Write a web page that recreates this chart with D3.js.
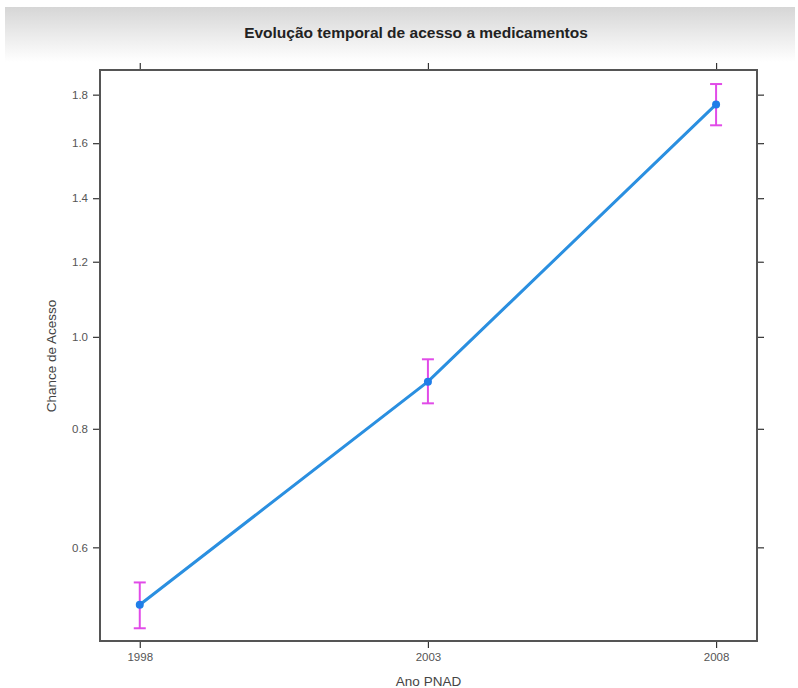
<!DOCTYPE html>
<html><head><meta charset="utf-8">
<script src="https://cdn.jsdelivr.net/npm/d3@7"></script>
<style>body{margin:0;background:#fff;}svg{display:block;}</style>
</head><body>
<svg id="c" width="798" height="688"></svg>
<script>
const years = [1998, 2003, 2008];
const estimate = [0.522, 0.897, 1.758];
const lower = [0.493, 0.851, 1.671];
const upper = [0.551, 0.947, 1.847];
const yTicks = [0.6, 0.8, 1.0, 1.2, 1.4, 1.6, 1.8];
const title = "Evolução temporal de acesso a medicamentos";
const xLabel = "Ano PNAD";
const yLabel = "Chance de Acesso";

const svg = d3.select("#c");
const L = 100, R = 757, T = 70, B = 641;

// title band gradient
const defs = svg.append("defs");
const g = defs.append("linearGradient").attr("id","band").attr("x1",0).attr("y1",0).attr("x2",0).attr("y2",1);
g.append("stop").attr("offset","0%").attr("stop-color","#d6d6d6");
g.append("stop").attr("offset","100%").attr("stop-color","#ffffff");
svg.append("rect").attr("x",5).attr("y",7).attr("width",790).attr("height",55).attr("fill","url(#band)");

const font = "Liberation Sans, Arial, sans-serif";

svg.append("text").attr("x",416).attr("y",38).attr("text-anchor","middle")
  .attr("font-family",font).attr("font-weight","bold")
  .attr("font-size",15.5).attr("fill","#222").text(title);

const x = d3.scaleLinear().domain([1997.31, 2008.71]).range([L, R]);
const y = d3.scaleLog().domain([0.478, 1.911]).range([B, T]);

function styleAxis(sel, showLabels){
  sel.select(".domain").remove();
  sel.selectAll(".tick line").attr("stroke", "#333").attr("stroke-width",1.2);
  sel.selectAll(".tick text").attr("font-family",font).attr("font-size",11.5).attr("fill","#555");
  if(!showLabels) sel.selectAll(".tick text").remove();
}

svg.append("g").attr("transform",`translate(0,${B})`)
  .call(d3.axisBottom(x).tickValues(years).tickFormat(d3.format("d")).tickSize(7).tickPadding(5))
  .call(s=>styleAxis(s,true));
svg.append("g").attr("transform",`translate(0,${T})`)
  .call(d3.axisTop(x).tickValues(years).tickSize(7))
  .call(s=>styleAxis(s,false));
svg.append("g").attr("transform",`translate(${L},0)`)
  .call(d3.axisLeft(y).tickValues(yTicks).tickFormat(d3.format(".1f")).tickSize(7).tickPadding(5))
  .call(s=>styleAxis(s,true));
svg.append("g").attr("transform",`translate(${R},0)`)
  .call(d3.axisRight(y).tickValues(yTicks).tickSize(7))
  .call(s=>styleAxis(s,false));

svg.append("rect").attr("x",L).attr("y",T).attr("width",R-L).attr("height",B-T)
  .attr("fill","none").attr("stroke","#555").attr("stroke-width",2);

const data = years.map((yr,i)=>({yr, est:estimate[i], lo:lower[i], hi:upper[i]}));

svg.append("path").datum(data)
  .attr("fill","none").attr("stroke","#2a8fe0").attr("stroke-width",3)
  .attr("d", d3.line().x(d=>x(d.yr)).y(d=>y(d.est)));

const eb = svg.append("g").attr("stroke","#e14be8").attr("stroke-width",2);
data.forEach(d=>{
  eb.append("line").attr("x1",x(d.yr)).attr("x2",x(d.yr)).attr("y1",y(d.lo)).attr("y2",y(d.hi));
  eb.append("line").attr("x1",x(d.yr)-6).attr("x2",x(d.yr)+6).attr("y1",y(d.lo)).attr("y2",y(d.lo));
  eb.append("line").attr("x1",x(d.yr)-6).attr("x2",x(d.yr)+6).attr("y1",y(d.hi)).attr("y2",y(d.hi));
});

svg.append("g").selectAll("circle").data(data).join("circle")
  .attr("cx",d=>x(d.yr)).attr("cy",d=>y(d.est)).attr("r",4).attr("fill","#1f7de8");

svg.append("text").attr("x",(L+R)/2).attr("y",686).attr("text-anchor","middle")
  .attr("font-family",font).attr("font-size",13.5).attr("fill","#444").text(xLabel);
svg.append("text").attr("transform","translate(56,356) rotate(-90)").attr("text-anchor","middle")
  .attr("font-family",font).attr("font-size",13.5).attr("fill","#444").text(yLabel);
</script>
</body></html>
